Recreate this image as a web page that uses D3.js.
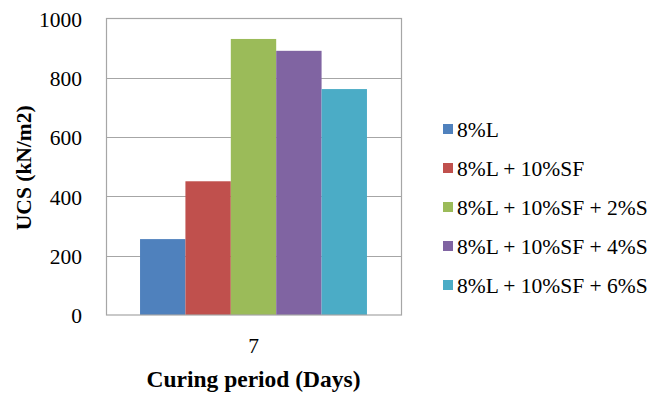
<!DOCTYPE html>
<html>
<head>
<meta charset="utf-8">
<script src="https://cdn.jsdelivr.net/npm/d3@7"></script>
<style>
  html, body { margin: 0; padding: 0; background: #fff; }
  svg { display: block; }
</style>
</head>
<body>
<svg id="chart" width="649" height="394"></svg>
<script>
// Curing period categories
const categories = ["7"];
// Mix designs (series)
const seriesNames = [
  "8%L",
  "8%L + 10%SF",
  "8%L + 10%SF + 2%S",
  "8%L + 10%SF + 4%S",
  "8%L + 10%SF + 6%S"
];
// UCS values (kN/m2) per series at 7 days
const seriesValues = [256, 451, 931, 891, 762];
const seriesColors = ["#4F81BD", "#C0504D", "#9BBB59", "#8064A2", "#4BACC6"];
const yTicks = [0, 200, 400, 600, 800, 1000];

const FONT = "Liberation Serif";

const svg = d3.select("#chart");
const plot = { left: 106, top: 18.5, right: 401, bottom: 315 };

const y = d3.scaleLinear().domain([0, 1000]).range([plot.bottom, plot.top]);
const x0 = d3.scaleBand().domain(categories).range([plot.left, plot.right]).paddingInner(0).paddingOuter(0.15);
const x1 = d3.scaleBand().domain(seriesNames).range([0, x0.bandwidth()]).padding(0);

// gridlines
svg.append("g")
  .selectAll("line")
  .data(yTicks.filter(d => d > 0 && d < 1000))
  .join("line")
  .attr("x1", plot.left).attr("x2", plot.right)
  .attr("y1", d => Math.round(y(d)) + 0.5).attr("y2", d => Math.round(y(d)) + 0.5)
  .attr("stroke", "#a6a6a6").attr("stroke-width", 1.2);

// bars
const groups = svg.append("g")
  .selectAll("g")
  .data(categories)
  .join("g")
  .attr("transform", d => `translate(${x0(d)},0)`);

groups.selectAll("rect")
  .data(() => seriesNames.map((s, i) => ({ s, v: seriesValues[i], c: seriesColors[i] })))
  .join("rect")
  .attr("x", d => x1(d.s))
  .attr("y", d => y(d.v))
  .attr("width", x1.bandwidth())
  .attr("height", d => y(0) - y(d.v))
  .attr("fill", d => d.c);

// plot border
svg.append("rect")
  .attr("x", plot.left + 0.5).attr("y", plot.top)
  .attr("width", plot.right - plot.left).attr("height", plot.bottom - plot.top)
  .attr("fill", "none").attr("stroke", "#a6a6a6").attr("stroke-width", 1.2);

// y axis labels
const yAxis = d3.axisLeft(y).tickValues(yTicks).tickFormat(d3.format("d")).tickSize(0).tickPadding(24);
const gy = svg.append("g").attr("transform", `translate(${plot.left},1)`).call(yAxis)
  .attr("font-family", FONT).attr("font-size", 21.5);
gy.select(".domain").remove();
gy.selectAll("text").attr("fill", "#000");

// x axis labels
const xAxis = d3.axisBottom(x0).tickSize(0).tickPadding(23);
const gx = svg.append("g").attr("transform", `translate(0,${plot.bottom})`).call(xAxis)
  .attr("font-family", FONT).attr("font-size", 21.5);
gx.select(".domain").remove();
gx.selectAll("text").attr("fill", "#000");

// axis titles
svg.append("text")
  .attr("transform", `translate(31,${(plot.top + plot.bottom) / 2 + 1}) rotate(-90)`)
  .attr("text-anchor", "middle")
  .attr("font-family", FONT).attr("font-size", 21.5).attr("font-weight", "bold")
  .text("UCS (kN/m2)");

svg.append("text")
  .attr("x", (plot.left + plot.right) / 2).attr("y", 387)
  .attr("text-anchor", "middle")
  .attr("font-family", FONT).attr("font-size", 23.5).attr("font-weight", "bold")
  .text("Curing period (Days)");

// legend
const legend = svg.append("g").attr("font-family", FONT).attr("font-size", 21.5);
const items = legend.selectAll("g")
  .data(seriesNames)
  .join("g")
  .attr("transform", (d, i) => `translate(443,${129 + i * 39})`);
items.append("rect")
  .attr("x", 0).attr("y", -5).attr("width", 10).attr("height", 10)
  .attr("fill", (d, i) => seriesColors[i]);
items.append("text")
  .attr("x", 14).attr("y", 0).attr("dy", "0.35em")
  .attr("fill", "#000")
  .text(d => d);
</script>
</body>
</html>
